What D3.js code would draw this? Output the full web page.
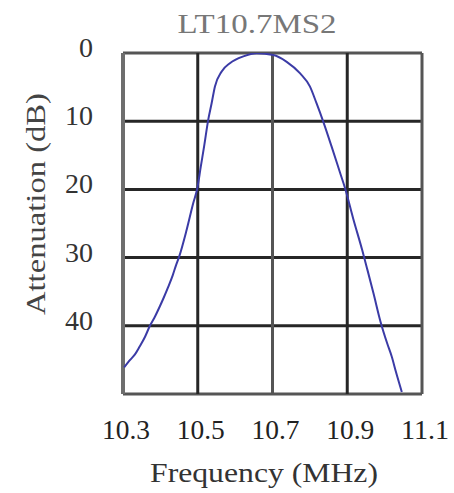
<!DOCTYPE html>
<html>
<head>
  <meta charset="utf-8">
  <title>LT10.7MS2</title>
  <script src="https://d3js.org/d3.v7.min.js"></script>
  <style>
    body { margin: 0; background: #fff; }
    text { font-family: "Liberation Serif", "DejaVu Serif", serif; }
  </style>
</head>
<body>
  <svg id="main-svg"></svg>
  <script type="text/javascript">
    const svg_width = 454;
    const svg_height = 493;

    // frequency response
    var freq = [10.303, 10.319, 10.332, 10.345, 10.359, 10.372, 10.386, 10.399, 10.408, 10.421,
      10.433, 10.442, 10.450, 10.470, 10.488, 10.499, 10.508, 10.517, 10.528, 10.537,
      10.546, 10.564, 10.586, 10.622, 10.658, 10.702, 10.738, 10.774, 10.800, 10.818,
      10.836, 10.858, 10.881, 10.894, 10.916, 10.940, 10.954, 10.970, 10.989, 11.007,
      11.019, 11.030, 11.046];
    var atten = [46.1, 45.0, 44.2, 43.0, 41.6, 40.0, 38.6, 37.1, 36.0, 34.3,
      32.6, 31.1, 29.9, 26.0, 22.0, 19.8, 16.7, 13.7, 9.8, 7.4,
      4.9, 2.7, 1.5, 0.5, 0.05, 0.3, 1.3, 3.0, 4.9, 7.4,
      10.1, 13.7, 17.6, 19.8, 24.3, 28.9, 31.8, 35.2, 39.4, 42.6,
      44.5, 46.7, 49.7];

    var xTicks = [10.3, 10.5, 10.7, 10.9, 11.1];
    var yTicks = [0, 10, 20, 30, 40, 50];
    var yLabels = ["0", "10", "20", "30", "40"];

    var margin = { top: 53, right: 32, bottom: 99, left: 123 };
    var width = svg_width - margin.left - margin.right;
    var height = svg_height - margin.top - margin.bottom;

    var x = d3.scaleLinear().domain([10.3, 11.1]).range([0, width]);
    var y = d3.scaleLinear().domain([0, 50]).range([0, height]);

    var svg = d3.select("#main-svg")
      .attr("width", svg_width)
      .attr("height", svg_height);

    var g = svg.append("g")
      .attr("transform", "translate(" + margin.left + "," + margin.top + ")");

    // grid
    g.selectAll(".hgrid")
      .data(yTicks)
      .enter().append("line")
      .attr("x1", 0).attr("x2", width)
      .attr("y1", d => y(d)).attr("y2", d => y(d))
      .attr("stroke", (d, i) => (i === 0 || i === yTicks.length - 1) ? "#555" : "#262626")
      .attr("stroke-width", 3);

    g.selectAll(".vgrid")
      .data(xTicks)
      .enter().append("line")
      .attr("y1", 0).attr("y2", height)
      .attr("x1", d => x(d)).attr("x2", d => x(d))
      .attr("stroke", (d, i) => i === 0 ? "#6e6e6e" : (i === 2 || i === 4) ? "#555" : "#262626")
      .attr("stroke-width", (d, i) => i === 0 ? 4 : 3);

    // curve
    g.append("clipPath").attr("id", "clip")
      .append("rect").attr("x", 0).attr("y", 0).attr("width", width).attr("height", height);

    var pts = freq.map((f, i) => [f, atten[i]]);
    var line = d3.line()
      .x(d => x(d[0]))
      .y(d => y(d[1]))
      .curve(d3.curveMonotoneX);

    g.append("path")
      .datum(pts)
      .attr("clip-path", "url(#clip)")
      .attr("fill", "none")
      .attr("stroke", "#3b3ba6")
      .attr("stroke-width", 2)
      .attr("d", line);

    // tick labels
    g.selectAll(".ylab")
      .data(yLabels)
      .enter().append("text")
      .attr("x", -30)
      .attr("y", d => y(+d) + 4)
      .attr("text-anchor", "end")
      .attr("font-size", 28)
      .attr("fill", "#333")
      .text(d => d);

    g.selectAll(".xlab")
      .data(xTicks)
      .enter().append("text")
      .attr("x", d => x(d) + 3)
      .attr("y", 439 - margin.top)
      .attr("text-anchor", "middle")
      .attr("font-size", 28)
      .attr("fill", "#222")
      .attr("textLength", 48)
      .attr("lengthAdjust", "spacingAndGlyphs")
      .text(d => d3.format(".1f")(d));

    // titles
    svg.append("text")
      .attr("x", 257)
      .attr("y", 33)
      .attr("text-anchor", "middle")
      .attr("font-size", 28)
      .attr("fill", "#777")
      .attr("textLength", 159)
      .attr("lengthAdjust", "spacingAndGlyphs")
      .text("LT10.7MS2");

    svg.append("text")
      .attr("x", 264)
      .attr("y", 482)
      .attr("text-anchor", "middle")
      .attr("font-size", 28)
      .attr("fill", "#333")
      .attr("textLength", 228)
      .attr("lengthAdjust", "spacingAndGlyphs")
      .text("Frequency (MHz)");

    svg.append("text")
      .attr("transform", "translate(45,204) rotate(-90)")
      .attr("text-anchor", "middle")
      .attr("font-size", 28)
      .attr("fill", "#444")
      .attr("textLength", 222)
      .attr("lengthAdjust", "spacingAndGlyphs")
      .text("Attenuation (dB)");
  </script>
</body>
</html>
